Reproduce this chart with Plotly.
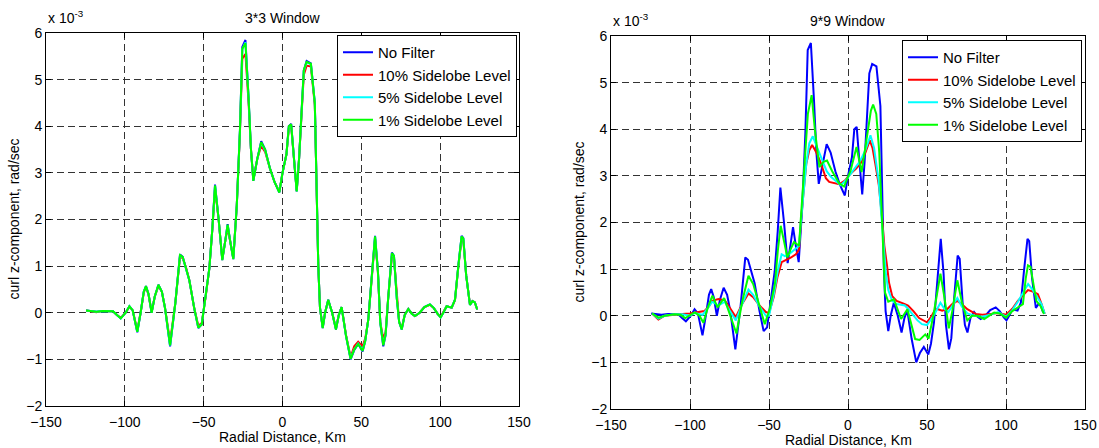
import plotly.graph_objects as go

# ---------------- data (curl z-component, units of 1e-3 rad/sec) ----------------
# No Filter (same in both panels)
nf_x = [-124.6, -121, -118, -114, -110, -107.5, -105, -102.6, -99.5, -97.1,
        -95, -92.1, -90, -88, -86.6, -85, -83, -81, -78.7, -76.5,
        -74.5, -71.3, -68, -65, -63.3, -61, -59.1, -56, -53.4, -51.2,
        -48.5, -46.4, -44.5, -42.8, -40.5, -38.2, -36.5, -34.8, -33, -31.2,
        -29, -27, -25.5, -23.5, -21.5, -20, -18.5, -16, -13.5, -11,
        -8, -5, -2, 0, 2.5, 4, 5.5, 7, 9, 10.5,
        12, 13.5, 15.3, 18, 20.5, 21.8, 22.7, 23.8, 25.5, 27,
        29, 31.5, 33.9, 35.7, 37.5, 40.3, 43.2, 45.5, 48, 50.8,
        52.5, 54.4, 56.5, 58.7, 60.5, 62, 63.9, 65.4, 67, 69.4,
        70.7, 72.5, 74, 75.6, 77.5, 79.8, 82, 84, 87, 90,
        93.5, 96, 98.5, 100.3, 102, 104.1, 107.3, 109.4, 111.5, 113.6,
        114.7, 116.5, 118.9, 120.5, 122, 123.5]
nf_y = [0.05, 0.03, 0.02, 0.04, 0.04, 0.03, -0.05, -0.12, 0.0, 0.14,
        0.05, -0.42, 0.0, 0.45, 0.57, 0.4, 0.0, 0.35, 0.6, 0.45,
        0.1, -0.72, 0.2, 1.25, 1.2, 0.95, 0.7, 0.1, -0.33, -0.25,
        0.4, 0.95, 1.8, 2.75, 2.0, 1.13, 1.5, 1.9, 1.5, 1.15,
        2.3, 3.9, 5.7, 5.85, 4.6, 3.5, 2.83, 3.3, 3.68, 3.5,
        3.1, 2.8, 2.58, 3.0, 3.4, 4.0, 4.05, 3.4, 2.6, 3.3,
        4.3, 5.2, 5.4, 5.35, 4.5, 2.5, 1.0, 0.1, -0.33, 0.0,
        0.28, 0.0, -0.36, -0.05, 0.12, -0.5, -1.0, -0.8, -0.67, -0.83,
        -0.6, -0.15, 0.8, 1.65, 0.9, -0.2, -0.72, -0.48, 0.3, 1.29,
        1.22, 0.3, -0.2, -0.36, -0.05, 0.08, -0.02, -0.07, 0.0, 0.12,
        0.18, 0.1, -0.03, -0.1, 0.0, 0.14, 0.11, 0.28, 1.0, 1.65,
        1.6, 0.8, 0.17, 0.25, 0.22, 0.07]

# 3*3 window filtered series (sampled at the same distances as nf_x)
w3_sl10_y = [0.05, 0.02, 0.01, 0.04, 0.04, 0.03, -0.05, -0.11, 0.0, 0.13,
             0.05, -0.38, 0.0, 0.43, 0.55, 0.4, 0.02, 0.35, 0.57, 0.45,
             0.1, -0.62, 0.2, 1.2, 1.17, 0.95, 0.7, 0.1, -0.28, -0.22,
             0.4, 0.95, 1.8, 2.65, 2.0, 1.15, 1.5, 1.82, 1.5, 1.18,
             2.3, 3.85, 5.45, 5.55, 4.5, 3.5, 2.85, 3.3, 3.58, 3.45,
             3.1, 2.8, 2.6, 3.0, 3.4, 3.95, 4.0, 3.4, 2.62, 3.3,
             4.25, 5.1, 5.3, 5.28, 4.45, 2.5, 1.0, 0.1, -0.3, 0.0,
             0.26, 0.0, -0.33, -0.05, 0.12, -0.48, -0.95, -0.72, -0.62, -0.72,
             -0.55, -0.15, 0.78, 1.58, 0.88, -0.2, -0.55, -0.42, 0.3, 1.22,
             1.18, 0.3, -0.2, -0.33, -0.05, 0.08, -0.02, -0.07, 0.0, 0.12,
             0.17, 0.1, -0.03, -0.09, 0.0, 0.14, 0.11, 0.27, 0.98, 1.58,
             1.55, 0.8, 0.18, 0.25, 0.22, 0.07]
w3_sl5_y = [0.05, 0.03, 0.02, 0.04, 0.04, 0.03, -0.05, -0.12, 0.0, 0.14,
            0.05, -0.41, 0.0, 0.45, 0.56, 0.4, 0.01, 0.35, 0.59, 0.45,
            0.1, -0.7, 0.2, 1.23, 1.19, 0.95, 0.7, 0.1, -0.32, -0.24,
            0.4, 0.95, 1.8, 2.72, 2.0, 1.14, 1.5, 1.88, 1.5, 1.16,
            2.3, 3.9, 5.65, 5.8, 4.58, 3.5, 2.84, 3.3, 3.65, 3.48,
            3.1, 2.8, 2.59, 3.0, 3.4, 3.98, 4.03, 3.4, 2.61, 3.3,
            4.28, 5.18, 5.37, 5.33, 4.5, 2.5, 1.0, 0.1, -0.32, 0.0,
            0.27, 0.0, -0.35, -0.05, 0.12, -0.5, -0.98, -0.78, -0.66, -0.8,
            -0.59, -0.15, 0.8, 1.63, 0.9, -0.2, -0.68, -0.46, 0.3, 1.27,
            1.21, 0.3, -0.2, -0.35, -0.05, 0.08, -0.02, -0.07, 0.0, 0.12,
            0.18, 0.1, -0.03, -0.1, 0.0, 0.14, 0.11, 0.28, 1.0, 1.63,
            1.58, 0.8, 0.17, 0.25, 0.22, 0.07]
w3_sl1_y = [0.05, 0.03, 0.02, 0.04, 0.04, 0.03, -0.05, -0.12, 0.0, 0.14,
            0.05, -0.41, 0.0, 0.45, 0.57, 0.4, 0.0, 0.35, 0.6, 0.45,
            0.1, -0.7, 0.2, 1.24, 1.2, 0.95, 0.7, 0.1, -0.32, -0.25,
            0.4, 0.95, 1.8, 2.73, 2.0, 1.13, 1.5, 1.89, 1.5, 1.15,
            2.3, 3.9, 5.66, 5.78, 4.6, 3.5, 2.83, 3.3, 3.66, 3.5,
            3.1, 2.8, 2.58, 3.0, 3.4, 4.0, 4.04, 3.4, 2.6, 3.3,
            4.3, 5.2, 5.38, 5.34, 4.5, 2.5, 1.0, 0.1, -0.33, 0.0,
            0.28, 0.0, -0.36, -0.05, 0.12, -0.5, -0.99, -0.79, -0.67, -0.82,
            -0.6, -0.15, 0.8, 1.64, 0.9, -0.2, -0.7, -0.47, 0.3, 1.28,
            1.22, 0.3, -0.2, -0.36, -0.05, 0.08, -0.02, -0.07, 0.0, 0.12,
            0.18, 0.1, -0.03, -0.1, 0.0, 0.14, 0.11, 0.28, 1.0, 1.64,
            1.59, 0.8, 0.17, 0.25, 0.22, 0.07]

# 9*9 window filtered series
w9_sl10_x = [-124, -120, -116, -110, -105, -100, -95, -91, -88, -86, -82, -78, -75, -71, -67, -63,
             -60, -56, -52, -50, -47, -44.7, -42, -38.4, -36, -33, -31, -29.6, -26.4, -24.5, -22.7,
             -20, -17, -14, -11.9, -5.6, -2, 1.7, 5, 7.9, 11, 13.8, 15.5, 17.3, 19.5, 21.5, 23,
             24.6, 26, 28, 30.8, 36, 38, 41.4, 45, 50, 53, 55.3, 57, 59.6, 63, 66, 69.2, 72,
             75.5, 80.8, 85, 90.4, 95, 100, 104, 107.5, 111, 113.9, 117, 120.2, 122.5, 124.5]
w9_sl10_y = [0.05, -0.08, 0.0, 0.03, 0.04, 0.05, 0.08, 0.1, 0.2, 0.32, 0.36, 0.33, 0.18, -0.03, 0.25, 0.48,
             0.4, 0.22, 0.08, 0.06, 0.4, 0.82, 1.15, 1.2, 1.25, 1.32, 1.42, 2.12, 3.26, 3.55, 3.66,
             3.5, 3.26, 2.95, 2.87, 2.82, 2.9, 3.05, 3.15, 3.26, 3.5, 3.76, 3.6, 3.26, 2.8, 2.12, 1.5,
             1.1, 0.7, 0.42, 0.32, 0.25, 0.22, 0.1, -0.05, -0.14, 0.0, 0.14, 0.14, 0.11, 0.15, 0.25, 0.32, 0.25,
             0.14, 0.04, 0.02, 0.04, 0.06, 0.02, 0.15, 0.32, 0.45, 0.55, 0.52, 0.46, 0.25, 0.04]

w9_sl5_x = [-124, -120, -116, -110, -105, -100, -97, -92, -88, -86, -82, -78, -75, -71, -67, -63,
            -60, -56, -52, -50, -47, -44.5, -42, -40, -38, -35, -31, -29.6, -26.4, -24.5, -22.3,
            -20, -17, -13.5, -10.8, -4.6, -1.5, 1.7, 5, 7.9, 11, 14.2, 16.5, 19.4, 21, 22.5, 24,
            25.5, 28, 30.8, 36, 38, 41, 44, 46.8, 50, 52.5, 55, 58.5, 61, 63.5, 66, 69.2, 72,
            75.5, 80, 85, 90, 95, 100, 104, 107.5, 111, 114, 117, 120, 122.5, 124.5]
w9_sl5_y = [0.05, -0.06, 0.0, 0.03, 0.03, 0.0, 0.06, 0.02, 0.2, 0.3, 0.22, 0.3, 0.12, -0.1, 0.25, 0.56,
            0.45, 0.2, 0.0, 0.0, 0.45, 0.95, 1.32, 1.28, 1.3, 1.38, 1.5, 2.1, 3.26, 3.7, 3.85,
            3.65, 3.4, 3.1, 2.98, 2.8, 2.9, 3.05, 3.2, 3.33, 3.55, 3.87, 3.6, 2.9, 2.2, 1.48, 0.9,
            0.55, 0.32, 0.25, 0.22, 0.15, 0.03, -0.1, -0.18, -0.2, -0.08, 0.05, 0.28, 0.15, 0.08, 0.2, 0.38, 0.2,
            0.05, 0.0, -0.02, 0.02, 0.08, -0.02, 0.12, 0.3, 0.5, 0.68, 0.55, 0.4, 0.25, 0.04]

w9_sl1_x = [-124, -120, -116, -110, -106, -103, -97, -94, -91.5, -88.5, -85.8, -82.6, -78.4, -75, -70.6,
            -67, -63, -60, -56, -52.7, -49.5, -46.2, -44.4, -42.6, -40.5, -38.4, -36, -34.2, -31,
            -29.5, -27.5, -25.4, -23, -21, -18.1, -15.5, -13.3, -10, -5.6, -2.5, 1.7, 5.4, 8.6, 12,
            14.5, 15.9, 17.9, 19.8, 21.5, 23.4, 25.5, 29.1, 33.6, 37.6, 42.5, 45.3, 48.9, 51, 54,
            58.5, 61, 63.8, 66, 69.2, 72, 75.5, 78.5, 81.9, 86.2, 92.5, 96, 100, 104, 107.5, 110.7,
            112.5, 113.9, 115.5, 117.5, 119.2, 122, 124]
w9_sl1_y = [0.05, -0.04, 0.0, 0.03, 0.02, -0.05, 0.07, 0.0, -0.15, 0.2, 0.43, 0.18, 0.38, 0.05, -0.38,
            0.3, 0.86, 0.68, 0.2, -0.18, 0.15, 0.7, 1.4, 1.93, 1.6, 1.25, 1.45, 1.58, 1.5,
            2.2, 3.26, 4.33, 4.73, 4.0, 3.19, 3.3, 3.33, 3.1, 2.84, 2.77, 3.12, 3.62, 3.08, 3.8,
            4.4, 4.53, 4.33, 3.5, 2.12, 0.5, 0.3, 0.35, -0.07, 0.14, -0.5, -0.52, -0.4, -0.49, 0.0,
            0.9, 0.4, -0.27, 0.1, 0.76, 0.3, -0.1, 0.0, 0.0, -0.07, 0.07, 0.05, -0.04, 0.1, 0.18, 0.25,
            0.8, 1.08, 1.05, 0.6, 0.32, 0.2, 0.04]

series_names = ["No Filter", "10% Sidelobe Level", "5% Sidelobe Level", "1% Sidelobe Level"]
series_colors = ["#0000ff", "#ff0000", "#00ffff", "#00ff00"]
x_ticks = [-150, -100, -50, 0, 50, 100, 150]
y_ticks = [-2, -1, 0, 1, 2, 3, 4, 5, 6]

# ---------------- figure ----------------
W, H = 1099, 448
fig = go.Figure()

left = [(nf_x, nf_y), (nf_x, w3_sl10_y), (nf_x, w3_sl5_y), (nf_x, w3_sl1_y)]
right = [(nf_x, nf_y), (w9_sl10_x, w9_sl10_y), (w9_sl5_x, w9_sl5_y), (w9_sl1_x, w9_sl1_y)]

for (xs, ys), name, col in zip(left, series_names, series_colors):
    fig.add_trace(go.Scatter(x=xs, y=ys, mode="lines", name=name,
                             line=dict(color=col, width=2),
                             xaxis="x", yaxis="y", legend="legend"))
for (xs, ys), name, col in zip(right, series_names, series_colors):
    fig.add_trace(go.Scatter(x=xs, y=ys, mode="lines", name=name,
                             line=dict(color=col, width=2),
                             xaxis="x2", yaxis="y2", legend="legend2"))

font = "Liberation Sans, Arial, Helvetica, sans-serif"

def px_x(p):
    return p / W

def px_y(p):
    return 1 - p / H

axis_common = dict(
    showline=True, linecolor="black", linewidth=1, mirror="ticks",
    ticks="inside", ticklen=5, tickcolor="black", tickwidth=1,
    showgrid=True, gridcolor="#333333", gridwidth=1, griddash="7px,4px",
    zeroline=False, automargin=False,
    tickfont=dict(size=14, color="black", family=font),
)

L = dict(x0=46, x1=519, y0=33, y1=406)
R = dict(x0=611, x1=1085, y0=36, y1=409)

legend_common = dict(xanchor="right", yanchor="top", bgcolor="white", bordercolor="black",
                     borderwidth=1, font=dict(size=15, family=font, color="black"),
                     tracegroupgap=0)

fig.update_layout(
    width=W, height=H,
    margin=dict(l=0, r=0, t=0, b=0, autoexpand=False),
    paper_bgcolor="white", plot_bgcolor="white",
    font=dict(family=font, size=14, color="black"),
    xaxis=dict(domain=[px_x(L["x0"]), px_x(L["x1"])], anchor="y", range=[-150, 150],
               tickvals=x_ticks, ticklabelstandoff=3, **axis_common),
    yaxis=dict(domain=[px_y(L["y1"]), px_y(L["y0"])], anchor="x", range=[-2, 6],
               tickvals=y_ticks, **axis_common),
    xaxis2=dict(domain=[px_x(R["x0"]), px_x(R["x1"])], anchor="y2", range=[-150, 150],
                tickvals=x_ticks, ticklabelstandoff=3, **axis_common),
    yaxis2=dict(domain=[px_y(R["y1"]), px_y(R["y0"])], anchor="x2", range=[-2, 6],
                tickvals=y_ticks, **axis_common),
    legend=dict(x=px_x(517), y=px_y(35), **legend_common),
    legend2=dict(x=px_x(1082), y=px_y(40), **legend_common),
    showlegend=True,
)

ann = []
for P, title in ((L, "3*3 Window"), (R, "9*9 Window")):
    cx = (P["x0"] + P["x1"]) / 2
    cy = (P["y0"] + P["y1"]) / 2
    ann.append(dict(text=title, x=px_x(cx), y=px_y(P["y0"] - 15), xref="paper", yref="paper",
                    xanchor="center", yanchor="middle", showarrow=False, font=dict(size=14)))
    ann.append(dict(text="x 10<sup>-3</sup>", x=px_x(P["x0"]), y=px_y(P["y0"] - 16),
                    xref="paper", yref="paper", xanchor="left", yanchor="middle",
                    showarrow=False, font=dict(size=14)))
    ann.append(dict(text="Radial Distance, Km", x=px_x(cx), y=px_y(P["y1"] + 31),
                    xref="paper", yref="paper", xanchor="center", yanchor="middle",
                    showarrow=False, font=dict(size=14)))
    ann.append(dict(text="curl z-component, rad/sec", x=px_x(P["x0"] - 33), y=px_y(cy),
                    xref="paper", yref="paper", xanchor="center", yanchor="middle",
                    textangle=-90, showarrow=False, font=dict(size=14)))
fig.update_layout(annotations=ann)

fig.write_html("out.html", config={"displayModeBar": False},
               post_script="document.body.style.margin='0';document.body.style.overflow='hidden';")
